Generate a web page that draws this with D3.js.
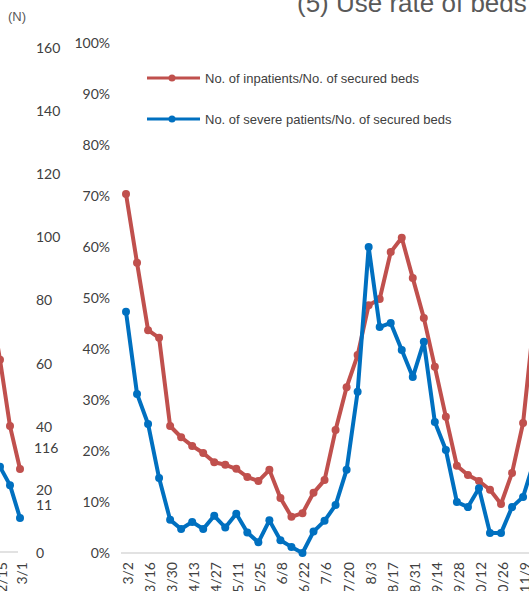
<!DOCTYPE html>
<html><head><meta charset="utf-8">
<script src="https://cdn.jsdelivr.net/npm/d3@7"></script>
<style>body{margin:0;background:#fff;overflow:hidden}svg{display:block}</style>
</head><body>
<svg id="c" width="529" height="591"></svg>
<script>
// ---- data ----
const dates = ["3/2","3/9","3/16","3/23","3/30","4/6","4/13","4/20","4/27","5/4","5/11","5/18","5/25","6/1","6/8","6/15","6/22","6/29","7/6","7/13","7/20","7/27","8/3","8/10","8/17","8/24","8/31","9/7","9/14","9/21","9/28","10/5","10/12","10/19","10/26","11/2","11/9","11/16"];
const inpatientRate = [70.4,56.9,43.7,42.2,24.9,22.7,21.0,19.6,17.8,17.3,16.5,14.9,14.1,16.3,10.8,7.1,7.8,11.8,14.3,24.1,32.5,38.8,48.6,49.8,59.0,61.8,53.9,46.1,36.5,26.7,17.1,15.3,14.1,12.4,9.6,15.7,25.5,46];
const severeRate = [47.3,31.2,25.3,14.7,6.5,4.7,6.1,4.7,7.3,5.0,7.7,4.0,2.1,6.4,2.5,1.2,0,4.2,6.3,9.4,16.3,31.6,60.0,44.3,45.1,39.8,34.5,41.4,25.7,20.2,10.0,9.0,12.7,3.9,3.9,9.0,11.0,18];
const pctTicks = [0,10,20,30,40,50,60,70,80,90,100];
const nTicks = [0,20,40,60,80,100,120,140,160];
// left (previous) panel, clipped
const leftDates = ["2/8","2/15","2/22","3/1"];
const leftInpatients = [80,61.2,40.2,26.6];
const leftSevere = [32,27.3,21.5,11.1];
const leftEndLabels = ["116","11"];
const title = "(5) Use rate of beds";
const legendNames = ["No. of inpatients/No. of secured beds","No. of severe patients/No. of secured beds"];
const colors = ["#C0504D","#0070C0"];

const svg = d3.select("#c");
const font = "Lato, 'Open Sans', sans-serif";
const textColor = "#404040";

// scales
const step = 11.03, x0 = 126;
const x = d3.scalePoint().domain(dates).range([x0, x0 + step*(dates.length-1)]);
const yP = d3.scaleLinear().domain([0,100]).range([553,43]);
const yN = d3.scaleLinear().domain([0,160]).range([553,48]);
const xL = d3.scalePoint().domain(leftDates).range([-10,20]);

// title
svg.append("text").attr("x",297).attr("y",12).attr("font-family","Arial, 'Liberation Sans', sans-serif")
  .attr("font-size",26).attr("fill","#595959").text(title);
svg.append("text").attr("x",8).attr("y",21).attr("font-family","Arial, 'Liberation Sans', sans-serif")
  .attr("font-size",13).attr("fill","#595959").text("(N)");

// N axis labels (left-aligned)
svg.append("g").selectAll("text").data(nTicks).join("text")
  .attr("x",36).attr("y",d=>yN(d)).attr("dy","0.35em")
  .attr("font-family",font).attr("font-size",14).attr("fill",textColor).text(d=>d);

// percent axis
const ax = d3.axisLeft(yP).tickValues(pctTicks).tickFormat(d=>d+"%").tickSize(0).tickPadding(0);
const gA = svg.append("g").attr("transform","translate(110,0)").call(ax);
gA.select(".domain").remove();
gA.selectAll("text").attr("font-family",font).attr("font-size",14).attr("fill",textColor);

// baselines
svg.append("line").attr("x1",121).attr("x2",529).attr("y1",553).attr("y2",553).attr("stroke","#d9d9d9").attr("stroke-width",1.5);
svg.append("line").attr("x1",0).attr("x2",18).attr("y1",552).attr("y2",552).attr("stroke","#d9d9d9").attr("stroke-width",1.5);

// x tick labels
svg.append("g").selectAll("text").data(dates.filter((d,i)=>i%2===0)).join("text")
  .attr("transform",d=>`translate(${x(d)+2},562) rotate(-90)`).attr("text-anchor","end").attr("dy","0.35em")
  .attr("font-family",font).attr("font-size",14).attr("fill",textColor).text(d=>d);
svg.append("g").selectAll("text").data(leftDates.filter((d,i)=>i%2===1)).join("text")
  .attr("transform",d=>`translate(${xL(d)+2},562) rotate(-90)`).attr("text-anchor","end").attr("dy","0.35em")
  .attr("font-family",font).attr("font-size",14).attr("fill",textColor).text(d=>d);

// series
function series(xs, xsc, vals, ysc, color){
  const g = svg.append("g");
  const line = d3.line().x((d,i)=>xsc(xs[i])).y(d=>ysc(d));
  g.append("path").datum(vals).attr("d",line).attr("fill","none").attr("stroke",color)
    .attr("stroke-width",4).attr("stroke-linejoin","round");
  g.selectAll("circle").data(vals).join("circle").attr("cx",(d,i)=>xsc(xs[i])).attr("cy",d=>ysc(d))
    .attr("r",4).attr("fill",color);
}
series(leftDates, xL, leftInpatients, yN, colors[0]);
series(leftDates, xL, leftSevere, yN, colors[1]);
series(dates, x, inpatientRate, yP, colors[0]);
series(dates, x, severeRate, yP, colors[1]);

// left end labels
svg.append("text").attr("x",34).attr("y",yN(leftInpatients[3])-21).attr("dy","0.35em")
  .attr("font-family",font).attr("font-size",14).attr("fill",textColor).text(leftEndLabels[0]);
svg.append("text").attr("x",36).attr("y",yN(leftSevere[3])-13).attr("dy","0.35em")
  .attr("font-family",font).attr("font-size",14).attr("fill",textColor).text(leftEndLabels[1]);

// legend
const lg = svg.append("g");
[78,119].forEach((ly,i)=>{
  lg.append("line").attr("x1",147).attr("x2",200).attr("y1",ly).attr("y2",ly).attr("stroke",colors[i]).attr("stroke-width",3);
  lg.append("circle").attr("cx",172).attr("cy",ly).attr("r",3.5).attr("fill",colors[i]);
  lg.append("text").attr("x",205).attr("y",ly).attr("dy","0.35em").attr("font-family","Arial, 'Liberation Sans', sans-serif")
    .attr("font-size",13).attr("fill",textColor).text(legendNames[i]);
});
</script>
</body></html>
